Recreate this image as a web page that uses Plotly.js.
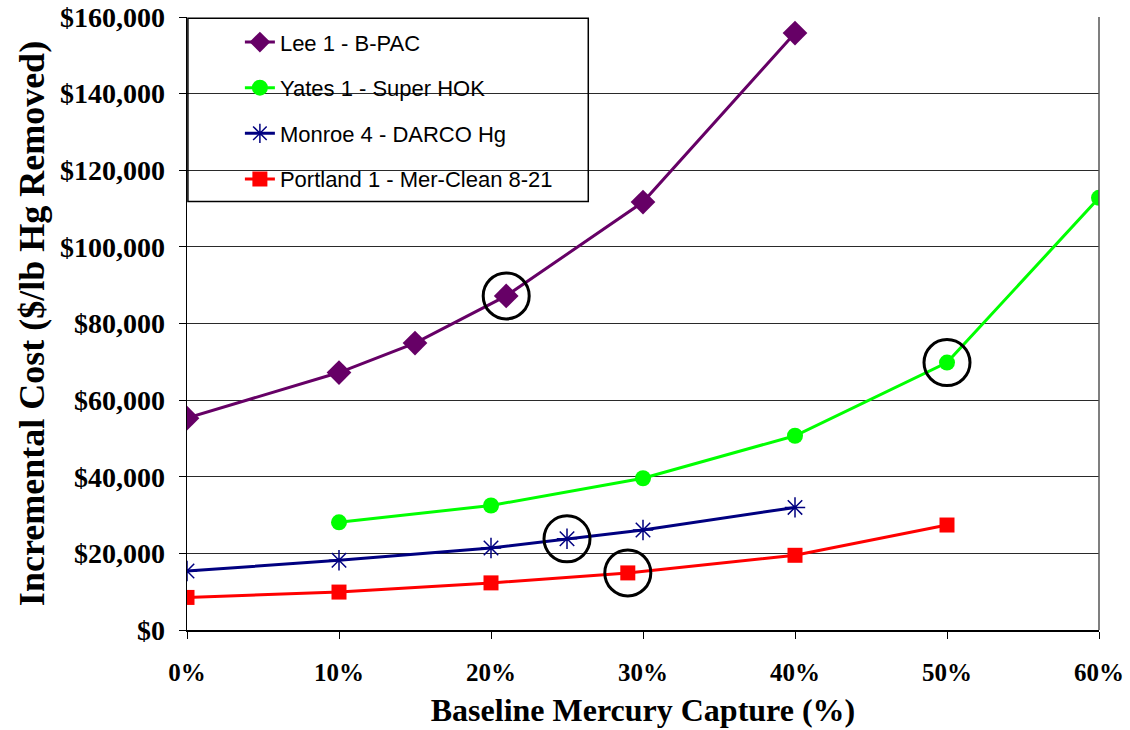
<!DOCTYPE html>
<html>
<head>
<meta charset="utf-8">
<script src="https://cdn.plot.ly/plotly-3.0.1.min.js"></script>
<style>
  html, body { margin: 0; padding: 0; background: #ffffff; }
  #chart { width: 1130px; height: 730px; }
</style>
</head>
<body>
<div id="chart"></div>
<script>
// Baseline mercury capture (%) and incremental cost ($/lb Hg removed)
const leeX = [0, 10, 15, 21, 30, 40];
const leeY = [55300, 67200, 74900, 87200, 111700, 155800];

const yatesX = [10, 20, 30, 40, 50, 60];
const yatesY = [28100, 32500, 39600, 50700, 69800, 112800];

const monroeX = [0, 10, 20, 25, 30, 40];
const monroeY = [15400, 18200, 21400, 23800, 26100, 32000];

const portlandX = [0, 10, 20, 29, 40, 50];
const portlandY = [8500, 9900, 12300, 14900, 19500, 27400];

const seriesNames = [
  "Lee 1 - B-PAC",
  "Yates 1 - Super HOK",
  "Monroe 4 - DARCO Hg",
  "Portland 1 - Mer-Clean 8-21"
];

// Selected operating point on each curve (x value), ringed on the chart
const leeSel = 21;
const yatesSel = 50;
const monroeSel = 25;
const portlandSel = 29;

const xTicks = [0, 10, 20, 30, 40, 50, 60];
const xTickText = ["0%", "10%", "20%", "30%", "40%", "50%", "60%"];
const yTicks = [0, 20000, 40000, 60000, 80000, 100000, 120000, 140000, 160000];
const yTickText = ["$0", "$20,000", "$40,000", "$60,000", "$80,000",
                   "$100,000", "$120,000", "$140,000", "$160,000"];

const serif = "Liberation Serif, Times New Roman, serif";
const sans = "Liberation Sans, Arial, sans-serif";

function pick(xs, ys, x) { return ys[xs.indexOf(x)]; }

function series(name, xs, ys, color, marker, group) {
  return {
    type: "scatter", mode: "lines+markers", name: name,
    x: xs, y: ys, legendgroup: group,
    line: { color: color, width: 3 },
    marker: marker,
    hoverinfo: "x+y+name"
  };
}

const traces = [
  series(seriesNames[0], leeX, leeY, "#660066",
    { symbol: "diamond", size: 19, color: "#660066" }, "a"),
  series(seriesNames[1], yatesX, yatesY, "#00ff00",
    { symbol: "circle", size: 16, color: "#00ff00" }, "b"),
  series(seriesNames[2], monroeX, monroeY, "#000080",
    { symbol: "asterisk-open", size: 17, color: "#000080", line: { color: "#000080", width: 1.5 } }, "c"),
  series(seriesNames[3], portlandX, portlandY, "#ff0000",
    { symbol: "square", size: 15, color: "#ff0000" }, "d"),
  {
    type: "scatter", mode: "markers", showlegend: false, hoverinfo: "skip",
    x: [leeSel, yatesSel, monroeSel, portlandSel],
    y: [pick(leeX, leeY, leeSel), pick(yatesX, yatesY, yatesSel),
        pick(monroeX, monroeY, monroeSel), pick(portlandX, portlandY, portlandSel)],
    marker: { symbol: "circle-open", size: 46, color: "#000000", line: { color: "#000000", width: 3 } }
  }
];

const layout = {
  width: 1130, height: 730,
  margin: { l: 187, r: 31, t: 17, b: 100 },
  paper_bgcolor: "#ffffff", plot_bgcolor: "#ffffff",
  showlegend: true,
  legend: {
    x: 0.058, xanchor: "left", y: 0.993, yanchor: "top",
    bgcolor: "rgba(0,0,0,0)", borderwidth: 0,
    font: { family: sans, size: 22, color: "#000000" },
    tracegroupgap: 14, traceorder: "grouped"
  },
  xaxis: {
    range: [0, 60], tickmode: "array", tickvals: xTicks, ticktext: xTickText,
    showgrid: false, zeroline: false,
    showline: true, linecolor: "#000000", linewidth: 1.5, mirror: false,
    ticks: "outside", ticklen: 7, tickcolor: "#000000", ticklabelstandoff: 12,
    tickfont: { family: serif, size: 25, weight: "bold", color: "#000000" },
    title: { text: "Baseline Mercury Capture (%)", standoff: 14,
      font: { family: serif, size: 32, weight: "bold", color: "#000000" } }
  },
  yaxis: {
    range: [0, 160000], tickmode: "array", tickvals: yTicks, ticktext: yTickText,
    showgrid: true, gridcolor: "#2a2a2a", gridwidth: 1.2, zeroline: false,
    showline: true, linecolor: "#000000", linewidth: 1.5,
    ticks: "outside", ticklen: 7, tickcolor: "#000000", ticklabelstandoff: 8,
    tickfont: { family: serif, size: 28, weight: "bold", color: "#000000" },
    title: { text: "Incremental Cost ($/lb Hg Removed)", standoff: 4,
      font: { family: serif, size: 36, weight: "bold", color: "#000000" } }
  },
  shapes: [
    { type: "rect", xref: "paper", yref: "paper", layer: "above",
      x0: 0.001, x1: 0.44, y0: 0.699, y1: 0.998,
      fillcolor: "rgba(0,0,0,0)", line: { color: "#000000", width: 1.5 } },
    { type: "line", xref: "paper", yref: "paper", layer: "above",
      x0: 1, x1: 1, y0: 0, y1: 1, line: { color: "#555555", width: 1.5 } }
  ]
};

Plotly.newPlot("chart", traces, layout, { displayModeBar: false, staticPlot: true });
</script>
</body>
</html>
